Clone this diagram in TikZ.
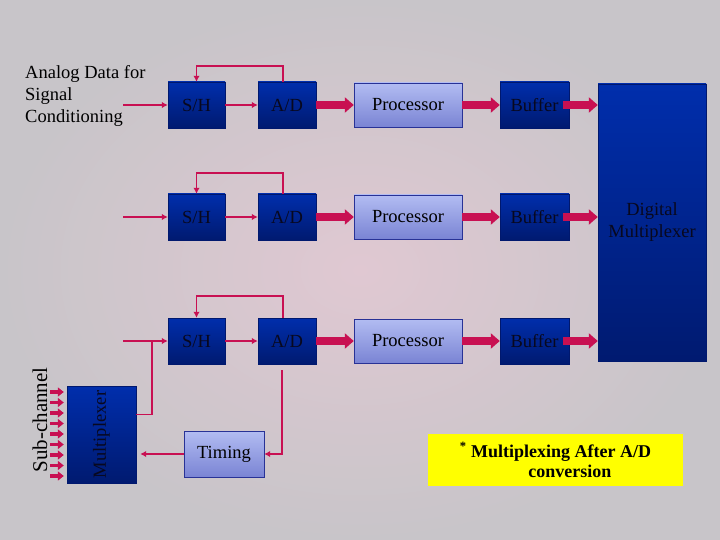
\documentclass[tikz,border=0pt]{standalone}
\usepackage{fontspec}
\setmainfont{Liberation Serif}
\usetikzlibrary{arrows.meta,calc,positioning}
\definecolor{SigRed}{RGB}{200,16,82}
\definecolor{BoxTop}{RGB}{0,46,172}
\definecolor{BoxBot}{RGB}{0,26,112}
\definecolor{BoxEdge}{RGB}{0,24,110}
\definecolor{ProcTop}{RGB}{178,188,242}
\definecolor{ProcBot}{RGB}{122,132,212}
\definecolor{ProcEdge}{RGB}{40,50,150}
\definecolor{BoxText}{RGB}{8,8,30}
\definecolor{BgPink}{RGB}{224,200,210}
\definecolor{BgGray}{RGB}{200,197,201}
\definecolor{NoteYellow}{RGB}{255,255,0}
\tikzset{
  darkbox/.style={draw=BoxEdge,top color=BoxTop,bottom color=BoxBot,text=BoxText,
    minimum width=57pt,minimum height=46pt,inner sep=0pt},
  lightbox/.style={draw=ProcEdge,top color=ProcTop,bottom color=ProcBot,
    minimum width=108pt,minimum height=44pt,inner sep=0pt},
  sig/.style={SigRed,line width=1.5pt},
  fat/.style={SigRed,line width=7.5pt,-{Triangle[length=9pt,width=15pt]}},
  subarr/.style={SigRed,line width=3.5pt,-{Triangle[length=6pt,width=9pt]}},
}

\begin{document}
\begin{tikzpicture}[x=1pt,y=-1pt,>={Latex[length=6pt,width=6.5pt]},
  font=\fontsize{18.5}{22}\selectfont]
  \useasboundingbox (0,0) rectangle (720,540);
  \shade[inner color=BgPink,outer color=BgGray] (0,0) rectangle (720,540);

  % output side
  \node[darkbox,minimum width=108pt,minimum height=277pt,align=center] (dmux) at (652,222.5) {Digital\\Multiplexer};

  % three channels
  \foreach \i/\y/\h in {1/105/16,2/217/21,3/341/22}{
    \node[darkbox] (sh\i) at (196.5,\y) {S/H};
    \node[darkbox,minimum width=58pt] (ad\i) at (287,\y) {A/D};
    \node[lightbox] (proc\i) at (408,\y) {Processor};
    \node[darkbox,minimum width=69pt] (buf\i) at (534.5,\y) {Buffer};
    \coordinate (in\i) at (123,\y);
    \draw[sig,->] (in\i) -- (sh\i.west);
    \draw[sig,->] (sh\i.east) -- (ad\i.west);
    \draw[sig,->] ([xshift=-4pt]ad\i.north) -- ++(0,-\h) -| (sh\i.north);
    \draw[fat] (ad\i.east) -- (proc\i.west);
    \draw[fat] (proc\i.east) -- (buf\i.west);
    \draw[fat] ([xshift=-6pt]buf\i.east) -- (dmux.west |- buf\i.east);
  }

  \node[anchor=north west,align=left,inner sep=0pt] (lbl) at (25,65) {Analog Data for\\Signal\\Conditioning};

  % analog multiplexer and timing
  \node[darkbox,minimum width=69pt,minimum height=97pt] (mux) at (101.5,434.5) {\rotatebox{90}{Multiplexer}};
  \node[rotate=90,font=\fontsize{21}{24}\selectfont] (subch) at (40,420) {Sub-channel};
  \foreach \y in {392,402.5,413,423.5,434,444.5,455,465.5,476}
    \draw[subarr] (50,\y) -- ($(mux.west |- 0,\y)+(-3,0)$);

  \coordinate (jn) at (152,341);
  \draw[sig] ([yshift=20pt]mux.east) -| (jn);

  \node[lightbox,minimum width=80pt,minimum height=46pt] (timing) at (224,454) {Timing};
  \draw[sig,->] (timing.west) -- ($(mux.east |- timing.west)+(4,0)$);
  \draw[sig,->] ($(ad3.south)+(-5,6)$) |- (timing.east);

  \node[fill=NoteYellow,minimum width=255pt,minimum height=52pt,align=center,
    font=\bfseries\fontsize{18}{20}\selectfont] (note) at (555.5,460)
    {\textsuperscript{*} Multiplexing After A/D\\\hspace*{1.6em}conversion};
\end{tikzpicture}
\end{document}
